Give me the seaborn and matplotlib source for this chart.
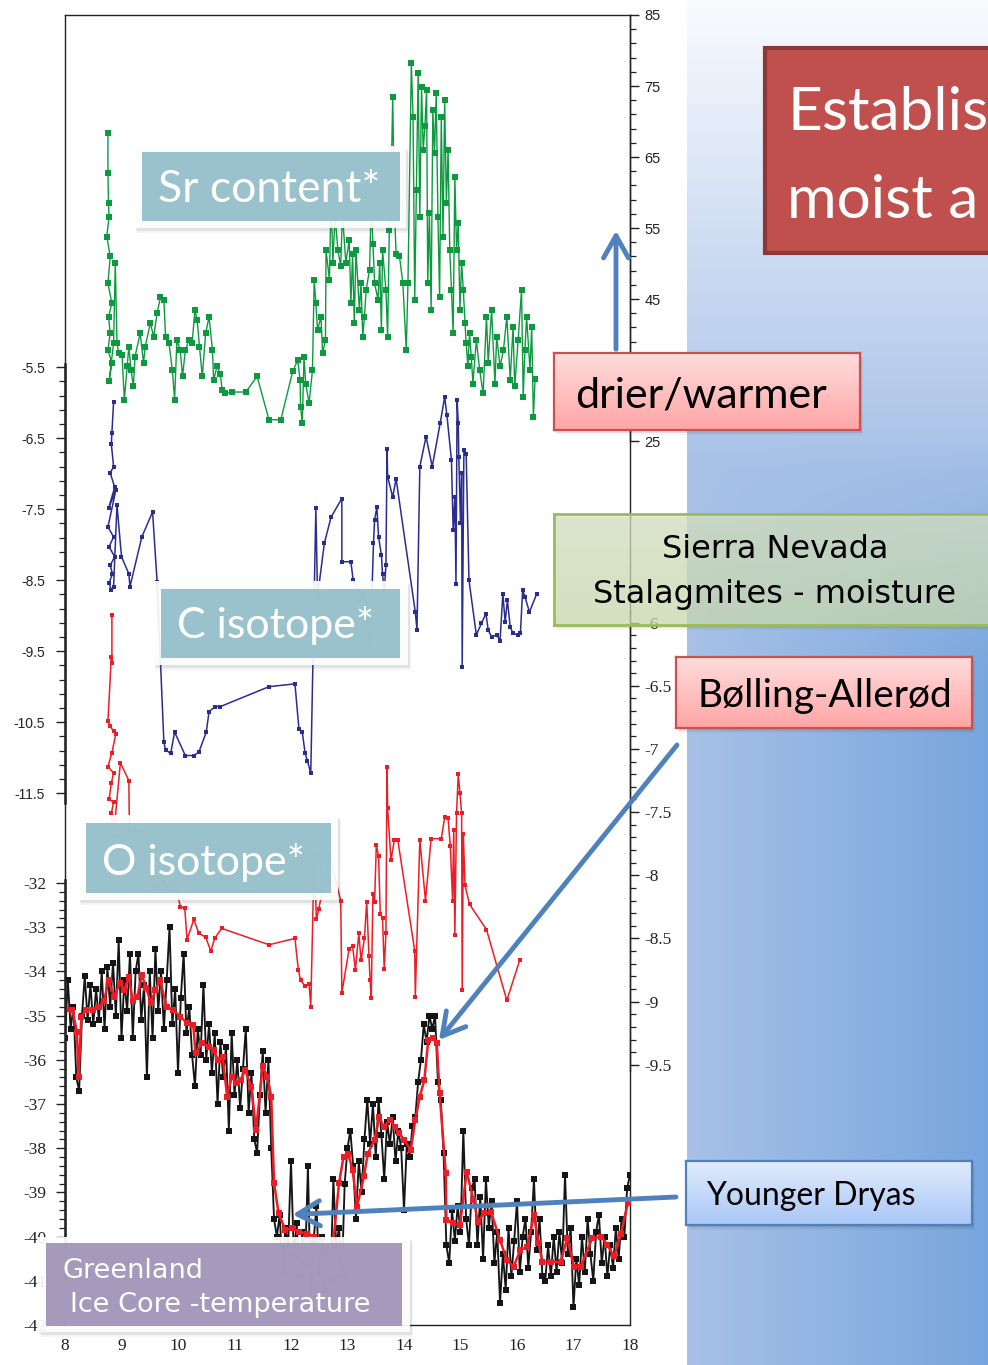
import numpy as np
import matplotlib
matplotlib.use("Agg")
import matplotlib.pyplot as plt
import seaborn as sns
from matplotlib.patches import Rectangle, FancyArrowPatch
from matplotlib.colors import to_rgb

sns.set_style("white")
plt.rcParams['font.family'] = ['Liberation Sans', 'DejaVu Sans']
plt.rcParams['axes.unicode_minus'] = False

W, H = 988, 1365

# ---------------- data (ka BP) ----------------
sr_age = [8.76, 8.76, 8.77, 8.78, 8.74, 8.80, 8.76, 8.83, 8.77, 8.80,
          8.76, 8.83, 8.78, 8.86, 8.89, 8.92, 8.95, 9.01, 9.05, 9.10,
          9.13, 9.17, 9.21, 9.24, 9.33, 9.39, 9.42, 9.51, 9.57, 9.63,
          9.69, 9.75, 9.78, 9.84, 9.90, 9.94, 9.98, 10.04, 10.08, 10.13,
          10.19, 10.25, 10.30, 10.34, 10.38, 10.43, 10.49, 10.55, 10.61, 10.63,
          10.69, 10.75, 10.78, 10.84, 10.96, 11.20, 11.40, 11.61, 11.82, 12.03,
          12.12, 12.16, 12.17, 12.20, 12.23, 12.26, 12.32, 12.38, 12.41, 12.44,
          12.47, 12.53, 12.56, 12.61, 12.62, 12.68, 12.71, 12.74, 12.78, 12.83,
          12.88, 12.91, 12.97, 13.03, 13.06, 13.09, 13.12, 13.15, 13.21, 13.24,
          13.27, 13.30, 13.33, 13.39, 13.42, 13.45, 13.48, 13.54, 13.57, 13.60,
          13.62, 13.68, 13.71, 13.74, 13.77, 13.80, 13.83, 13.86, 13.92, 13.98,
          14.04, 14.07, 14.13, 14.16, 14.19, 14.22, 14.25, 14.28, 14.31, 14.34,
          14.37, 14.40, 14.42, 14.45, 14.48, 14.51, 14.54, 14.57, 14.60, 14.63,
          14.66, 14.69, 14.72, 14.75, 14.78, 14.81, 14.84, 14.87, 14.90, 14.93,
          14.96, 14.99, 15.02, 15.05, 15.08, 15.10, 15.13, 15.16, 15.19, 15.22,
          15.28, 15.34, 15.40, 15.46, 15.49, 15.55, 15.61, 15.64, 15.70, 15.76,
          15.82, 15.88, 15.93, 15.96, 16.02, 16.08, 16.11, 16.14, 16.17, 16.23,
          16.26, 16.29, 16.32]
sr_val = [68.4, 62.7, 58.5, 56.6, 53.8, 51.0, 47.2, 44.4, 42.5, 40.2,
          37.8, 36.0, 33.4, 38.8, 50.1, 38.8, 37.4, 37.1, 30.8, 35.5,
          38.3, 35.0, 32.7, 36.9, 40.2, 36.0, 38.3, 41.6, 39.7, 43.0,
          45.3, 44.9, 39.7, 38.8, 35.0, 30.8, 39.2, 37.8, 34.1, 37.8,
          39.2, 38.8, 43.5, 42.0, 38.3, 34.1, 40.2, 42.5, 37.8, 33.6,
          35.5, 34.5, 32.2, 31.7, 31.9, 31.9, 34.1, 28.0, 28.0, 34.8,
          36.4, 33.6, 29.8, 27.5, 36.9, 33.1, 30.3, 35.0, 47.7, 44.4,
          40.6, 42.5, 37.4, 39.2, 51.9, 47.7, 59.9, 50.1, 56.6, 51.9,
          49.6, 57.1, 50.1, 53.3, 44.4, 51.4, 41.6, 51.9, 43.5, 47.2,
          39.7, 42.5, 46.3, 49.1, 58.5, 52.8, 47.2, 44.9, 50.1, 40.6,
          51.9, 46.3, 39.7, 54.7, 59.9, 73.5, 57.5, 51.4, 51.0, 47.2,
          37.8, 47.2, 78.2, 70.7, 44.9, 60.4, 76.8, 56.6, 74.9, 66.0,
          69.3, 74.4, 47.2, 57.1, 43.5, 71.6, 65.5, 74.0, 56.6, 45.3,
          70.7, 53.8, 73.0, 58.5, 66.0, 51.9, 46.3, 40.2, 62.2, 51.9,
          55.7, 43.5, 50.1, 46.3, 41.6, 38.8, 35.5, 40.2, 36.9, 33.1,
          39.2, 35.0, 31.7, 42.5, 36.0, 43.5, 33.1, 39.7, 35.5, 37.8,
          42.5, 33.6, 41.1, 32.7, 39.2, 46.3, 31.2, 37.8, 42.5, 35.0,
          41.1, 28.4, 33.8]

c_age = [8.86, 8.83, 8.82, 8.86, 8.80, 8.88, 8.77, 8.90, 8.76, 8.86,
         8.78, 8.88, 8.80, 8.84, 8.78, 8.82, 8.86, 8.92, 9.00, 9.13,
         9.15, 9.36, 9.55, 9.63, 9.75, 9.78, 9.87, 9.94, 10.13, 10.28,
         10.37, 10.50, 10.55, 10.66, 10.75, 11.61, 12.07, 12.14, 12.20, 12.25,
         12.29, 12.35, 12.44, 12.47, 12.59, 12.71, 12.90, 12.90, 13.06, 13.10,
         13.18, 13.21, 13.27, 13.33, 13.38, 13.40, 13.46, 13.48, 13.52, 13.55,
         13.60, 13.62, 13.65, 13.68, 13.70, 13.71, 13.80, 13.86, 14.20, 14.23,
         14.28, 14.39, 14.50, 14.64, 14.72, 14.76, 14.84, 14.87, 14.90, 14.92,
         14.94, 14.96, 14.97, 15.00, 15.02, 15.03, 15.06, 15.10, 15.15, 15.28,
         15.37, 15.45, 15.49, 15.55, 15.64, 15.70, 15.75, 15.79, 15.83, 15.88,
         15.93, 16.02, 16.06, 16.10, 16.14, 16.22, 16.35]
c_val = [-5.99, -6.43, -6.58, -6.90, -6.99, -7.19, -7.49, -7.23, -7.75, -7.89,
         -8.03, -8.17, -8.29, -8.41, -8.54, -8.64, -8.59, -7.44, -8.17, -8.41,
         -8.59, -7.89, -7.54, -8.52, -10.78, -10.89, -10.94, -10.64, -10.97, -10.97,
         -10.92, -10.64, -10.35, -10.28, -10.28, -10.00, -9.96, -10.59, -10.64, -10.94,
         -11.04, -11.22, -7.49, -8.73, -7.98, -7.61, -7.35, -8.24, -8.24, -8.50,
         -8.64, -8.81, -8.71, -8.83, -9.11, -9.53, -7.98, -7.65, -7.47, -7.89,
         -8.15, -8.41, -8.66, -8.29, -6.65, -7.04, -7.33, -7.07, -8.95, -9.20,
         -6.90, -6.48, -6.90, -6.29, -5.92, -6.18, -6.81, -7.80, -7.33, -8.55,
         -5.96, -6.29, -6.76, -7.70, -6.99, -9.72, -6.67, -6.72, -8.50, -9.27,
         -9.11, -8.97, -9.20, -9.30, -9.27, -9.35, -8.69, -9.09, -8.78, -9.16,
         -9.25, -9.27, -9.25, -8.64, -8.73, -8.95, -8.69]

o_age = [8.83, 8.83, 8.82, 8.76, 8.80, 8.86, 8.90, 8.83, 8.76, 8.86,
         8.82, 8.78, 8.86, 8.82, 8.86, 8.98, 9.13, 9.14, 9.36, 9.42,
         9.48, 9.60, 9.75, 9.81, 9.94, 9.98, 10.04, 10.12, 10.16, 10.28,
         10.37, 10.49, 10.58, 10.65, 10.77, 11.61, 12.07, 12.13, 12.17, 12.25,
         12.32, 12.35, 12.41, 12.45, 12.49, 12.68, 12.88, 12.90, 13.03, 13.09,
         13.14, 13.20, 13.24, 13.30, 13.34, 13.38, 13.40, 13.42, 13.45, 13.48,
         13.51, 13.55, 13.58, 13.62, 13.65, 13.68, 13.70, 13.71, 13.77, 13.83,
         13.89, 14.19, 14.20, 14.28, 14.38, 14.48, 14.66, 14.72, 14.78, 14.82,
         14.86, 14.88, 14.90, 14.93, 14.96, 14.99, 15.02, 15.03, 15.05, 15.08,
         15.16, 15.46, 15.82, 16.05]
o_val = [-5.94, -6.32, -6.27, -6.78, -6.82, -6.86, -6.88, -7.03, -7.14, -7.19,
         -7.27, -7.40, -7.42, -7.51, -7.69, -7.11, -7.25, -7.64, -7.65, -7.67,
         -7.80, -8.10, -8.05, -8.10, -8.05, -8.12, -8.25, -8.26, -8.51, -8.35,
         -8.46, -8.49, -8.60, -8.50, -8.42, -8.55, -8.50, -8.75, -8.83, -8.88,
         -8.86, -9.04, -7.85, -8.35, -8.27, -7.84, -8.20, -8.93, -8.58, -8.56,
         -8.75, -8.46, -8.67, -8.50, -8.21, -8.64, -8.83, -8.97, -8.15, -8.21,
         -7.76, -7.85, -8.31, -8.34, -8.74, -8.46, -7.14, -7.47, -7.88, -7.72,
         -7.72, -8.60, -8.96, -7.72, -8.20, -7.71, -7.71, -7.54, -7.55, -7.77,
         -8.20, -7.64, -8.47, -7.51, -7.20, -7.35, -7.51, -8.91, -7.67, -8.08,
         -8.23, -8.43, -8.99, -8.67]

# Greenland ice core temperature, regular 50-year steps from 8.0 to 18.0 ka
gr_age = np.round(np.arange(8.0, 18.001, 0.05), 2)
gr_temp = [-35.5, -34.2, -35.3, -34.8, -36.4, -36.7, -35.0, -34.1, -35.1, -34.3,
           -35.2, -34.4, -35.1, -34.0, -35.3, -33.9, -34.8, -33.8, -35.0, -33.3,
           -35.5, -34.2, -34.9, -33.6, -35.5, -34.0, -33.6, -35.1, -34.3, -36.4,
           -34.0, -35.5, -33.5, -34.9, -34.0, -35.3, -34.2, -33.0, -35.2, -34.4,
           -36.3, -34.6, -33.6, -35.4, -34.8, -35.9, -36.6, -35.3, -35.9, -34.3,
           -36.0, -35.2, -36.3, -35.4, -37.0, -35.6, -36.4, -35.7, -37.6, -35.4,
           -36.8, -36.0, -37.1, -36.2, -35.3, -37.2, -36.3, -37.8, -38.1, -36.8,
           -35.8, -37.2, -36.0, -38.0, -39.6, -40.0, -39.5, -40.8, -39.8, -40.2,
           -38.3, -40.4, -39.7, -40.9, -39.9, -40.6, -38.4, -41.5, -40.1, -39.3,
           -40.8, -40.0, -41.2, -40.3, -41.0, -38.7, -40.2, -39.8, -40.9, -38.8,
           -38.0, -37.6, -38.4, -39.6, -38.3, -39.0, -37.8, -36.9, -37.9, -37.0,
           -38.2, -36.9, -37.7, -38.7, -37.4, -37.9, -37.3, -38.3, -37.6, -38.0,
           -39.4, -37.9, -38.2, -37.5, -37.3, -36.5, -36.0, -35.2, -35.6, -35.0,
           -35.3, -35.0, -36.5, -36.9, -38.1, -40.2, -40.6, -39.4, -40.1, -39.3,
           -39.9, -37.6, -39.6, -40.2, -38.9, -38.7, -40.2, -39.1, -40.5, -38.7,
           -39.8, -39.2, -40.6, -39.9, -41.5, -40.4, -41.2, -39.8, -40.9, -40.1,
           -39.2, -40.8, -40.0, -39.6, -40.7, -39.9, -38.7, -40.3, -39.6, -40.9,
           -41.0, -40.2, -40.9, -40.0, -40.8, -39.9, -40.6, -38.6, -40.4, -39.8,
           -41.6, -40.5, -41.1, -40.0, -40.8, -39.6, -40.4, -41.0, -39.9, -39.5,
           -40.6, -40.0, -40.9, -40.2, -40.7, -39.8, -40.5, -39.6, -40.0, -38.9,
           -38.6]

grs_age = [8.02, 8.13, 8.21, 8.24, 8.29, 8.37, 8.49, 8.61, 8.69, 8.77,
           8.87, 8.97, 9.05, 9.13, 9.20, 9.28, 9.36, 9.44, 9.52, 9.60,
           9.68, 9.80, 9.92, 10.04, 10.16, 10.27, 10.31, 10.43, 10.55, 10.63,
           10.71, 10.79, 10.87, 10.95, 11.03, 11.11, 11.19, 11.30, 11.38, 11.50,
           11.58, 11.65, 11.70, 11.78, 11.90, 12.02, 12.14, 12.29, 12.41, 12.53,
           12.65, 12.73, 12.85, 12.93, 13.01, 13.09, 13.17, 13.29, 13.36, 13.48,
           13.56, 13.64, 13.76, 13.84, 13.92, 14.00, 14.12, 14.20, 14.28, 14.36,
           14.43, 14.51, 14.58, 14.63, 14.74, 14.75, 14.87, 14.99, 15.11, 15.23,
           15.31, 15.42, 15.54, 15.70, 15.82, 15.94, 16.06, 16.18, 16.30, 16.38,
           16.45, 16.61, 16.77, 16.89, 17.01, 17.13, 17.33, 17.49, 17.60, 17.72,
           17.84, 17.96]
grs_temp = [-34.84, -34.87, -35.36, -36.38, -35.02, -34.87, -34.87, -34.80, -34.68, -34.19,
            -34.57, -34.27, -34.42, -34.12, -34.68, -34.57, -34.08, -34.38, -34.72, -34.42,
            -34.19, -34.80, -34.87, -35.02, -35.17, -35.21, -35.85, -35.63, -35.70, -35.78,
            -36.00, -35.93, -36.83, -36.38, -36.53, -36.46, -36.23, -36.61, -37.59, -36.15,
            -36.38, -36.83, -38.79, -39.47, -39.85, -39.81, -39.89, -39.93, -40.00, -40.38,
            -40.87, -40.38, -38.79, -38.19, -38.12, -38.49, -39.32, -38.64, -38.12, -37.81,
            -37.29, -37.51, -37.36, -37.51, -37.66, -37.81, -38.04, -37.36, -36.83, -36.46,
            -35.55, -35.51, -35.63, -36.76, -38.57, -39.62, -39.70, -39.74, -38.53, -39.17,
            -39.66, -39.47, -39.44, -40.08, -40.53, -40.68, -40.30, -40.23, -39.51, -40.15,
            -40.57, -40.57, -40.57, -40.04, -40.68, -40.68, -40.04, -40.00, -40.19, -40.45,
            -39.93, -39.25]

x_ticks = [8, 9, 10, 11, 12, 13, 14, 15, 16, 17, 18]
sr_ticks = [25, 35, 45, 55, 65, 75, 85]
c_ticks = [-5.5, -6.5, -7.5, -8.5, -9.5, -10.5, -11.5]
gr_ticks = [-32, -33, -34, -35, -36, -37, -38, -39, -40, -41, -42]
o_ticks = [-6, -6.5, -7, -7.5, -8, -8.5, -9, -9.5]

# ---------------- figure ----------------
fig = plt.figure(figsize=(W / 100, H / 100), dpi=100)
fig.patch.set_facecolor('white')


def fx(px):
    return px / W


def fy(py):
    return 1 - py / H


SERIF = 'Liberation Serif'
SANS = 'Liberation Sans'
INK = '#222222'

# right-hand gradient panel
pan = fig.add_axes([fx(687), 0, 1 - fx(687), 1], zorder=-5)
yy = np.linspace(0, H, 280)[:, None]
uu = np.linspace(0, 1, 80)[None, :]
c_top = np.array([0.975, 0.983, 0.997])
c_mid = np.array([0.655, 0.757, 0.906])
c_dark = np.array([0.47, 0.65, 0.87])
a = np.clip(yy / 470.0, 0, 1)[..., None]
base = c_top * (1 - a) + c_mid * a
w = (np.clip((yy - 430) / 250.0, 0, 1) * uu)[..., None]
img = base * (1 - w) + c_dark * w
pan.imshow(img, aspect='auto', extent=(0, 1, 0, 1), interpolation='bilinear')
pan.axis('off')

# main frame axes
rect = [fx(65), fy(1325), fx(630) - fx(65), fy(15) - fy(1325)]
ax = fig.add_axes(rect, zorder=1)
ax.set_facecolor('white')
for s in ax.spines.values():
    s.set_linewidth(1.0)
    s.set_color(INK)


def make_twin(side, ylim, ticks, minor, bounds, family, size, pad, lw, z=2):
    t = ax.twinx()
    t.set_zorder(z)
    t.patch.set_visible(False)
    for k in ['top', 'bottom', 'left', 'right']:
        t.spines[k].set_visible(False)
    sp = t.spines[side]
    sp.set_visible(True)
    sp.set_bounds(*bounds)
    sp.set_linewidth(lw)
    sp.set_color(INK)
    if side == 'left':
        t.yaxis.tick_left()
    else:
        t.yaxis.tick_right()
    t.set_ylim(*ylim)
    t.set_yticks(ticks, labels=['%g' % v for v in ticks], fontfamily=family,
                 fontsize=size, color=INK)
    t.set_yticks(minor, minor=True)
    t.tick_params(axis='y', which='major', direction='out', length=6.5,
                  width=1.0, pad=pad, colors=INK)
    t.tick_params(axis='y', which='minor', direction='out', length=4.3,
                  width=0.9, colors=INK)
    return t


ax_sr = make_twin('right', (-99.5, 85), sr_ticks, np.arange(25, 85.1, 2),
                  (25, 85), SANS, 10.5, 4, 1.0)
ax_o = make_twin('right', (-11.56, -1.19), o_ticks,
                 np.round(np.arange(-9.5, -5.95, 0.1), 2),
                 (-9.55, -5.9), SERIF, 12.5, 4, 1.0)
ax_c = make_twin('left', (-18.99, -0.54), c_ticks,
                 np.round(np.arange(-11.5, -5.45, 0.2), 2),
                 (-11.64, -5.45), SANS, 10, 8, 1.8)
ax_g = make_twin('left', (-42, -12.36), gr_ticks,
                 np.round(np.arange(-42, -31.95, 0.2), 2),
                 (-42, -31.93), SERIF, 12.5, 7, 1.8, z=3)

ax.set_yticks([])
ax.tick_params(axis='y', left=False, right=False)

common = dict(sort=False, estimator=None, errorbar=None, marker='s',
              markeredgewidth=0)
sns.lineplot(x=sr_age, y=sr_val, ax=ax_sr, color='#0d9a3f', linewidth=1.0,
             markersize=3.7, markeredgecolor='#0d9a3f', **common)
sns.lineplot(x=c_age, y=c_val, ax=ax_c, color='#2b2d8e', linewidth=1.1,
             markersize=3.5, markeredgecolor='#2b2d8e', **common)
sns.lineplot(x=o_age, y=o_val, ax=ax_o, color='#ee1c25', linewidth=1.1,
             markersize=3.5, markeredgecolor='#ee1c25', **common)
sns.lineplot(x=gr_age, y=gr_temp, ax=ax_g, color='#151515', linewidth=1.35,
             markersize=4.0, markeredgecolor='#151515', **common)
sns.lineplot(x=grs_age, y=grs_temp, ax=ax_g, color='#ee1c25', linewidth=1.8,
             markersize=3.8, markeredgecolor='#ee1c25', **common)

for t in (ax_sr, ax_o, ax_c, ax_g):
    t.set_xlabel('')
    t.set_ylabel('')
ax_sr.set_ylim(-99.5, 85)
ax_o.set_ylim(-11.56, -1.19)
ax_c.set_ylim(-18.99, -0.54)
ax_g.set_ylim(-42, -12.36)

ax.set_xlim(8, 18)
ax.set_ylim(0, 1)
ax.set_xticks(x_ticks, labels=[str(v) for v in x_ticks], fontfamily=SERIF,
              fontsize=12.5, color=INK)
ax.set_xticks(np.round(np.arange(8, 18.01, 0.2), 2), minor=True)
ax.tick_params(axis='x', which='major', direction='out', length=6.5, width=1.0,
               pad=3, colors=INK, top=False)
ax.tick_params(axis='x', which='minor', direction='out', length=3.8, width=0.9,
               colors=INK, top=False)

# ---------------- annotation helpers ----------------


def frect(x0, y0, x1, y1, z, **kw):
    r = Rectangle((fx(x0), fy(y1)), fx(x1) - fx(x0), fy(y0) - fy(y1),
                  transform=fig.transFigure, zorder=z, **kw)
    fig.add_artist(r)
    return r


def shadow(x0, y0, x1, y1, z, off=3, alpha=0.12):
    for k, al in ((off + 2, alpha * 0.5), (off, alpha)):
        frect(x0 + k * 0.5, y0 + k, x1 + k * 0.5, y1 + k, z - 0.2,
              facecolor='#404040', alpha=al, linewidth=0)


def grad_box(x0, y0, x1, y1, top, bot, z, edge, lw=1.5, alpha=1.0):
    b = fig.add_axes([fx(x0), fy(y1), fx(x1) - fx(x0), fy(y0) - fy(y1)], zorder=z)
    g = np.linspace(0, 1, 60)[:, None, None]
    im = np.array(to_rgb(top)) * (1 - g) + np.array(to_rgb(bot)) * g
    b.imshow(im, aspect='auto', extent=(0, 1, 0, 1), alpha=alpha,
             interpolation='bilinear')
    b.set_xlim(0, 1)
    b.set_ylim(0, 1)
    b.set_xticks([])
    b.set_yticks([])
    b.patch.set_visible(False)
    for s in b.spines.values():
        s.set_edgecolor(edge)
        s.set_linewidth(lw)
    return b


def ftext(x, y, s, z, **kw):
    fig.text(fx(x), fy(y), s, zorder=z, va='baseline', **kw)


# teal / purple series labels
def label_box(outer, inner, fill, alpha, z=10):
    shadow(*outer, z, off=3, alpha=0.1)
    frect(*outer, z, facecolor='white', alpha=0.92, linewidth=0)
    frect(*inner, z + 0.1, facecolor=fill, alpha=alpha, linewidth=0)


label_box((134, 146, 406, 228), (142, 152, 400, 221), '#8fbcc7', 0.9)
ftext(158, 202, 'Sr content*', 11, color='white', fontsize=32, fontfamily='Lato')

label_box((153, 581, 408, 665), (161, 589, 400, 658), '#8fbcc7', 0.9)
ftext(177, 638, 'C isotope*', 11, color='white', fontsize=31, fontfamily='Lato')

label_box((78, 815, 338, 900), (86, 823, 331, 893), '#8fbcc7', 0.9)
ftext(102, 875, 'O isotope*', 11, color='white', fontsize=31, fontfamily='Lato')

label_box((38, 1237, 410, 1332), (46, 1243, 402, 1326), '#9a8db3', 0.88)
ftext(62, 1278, 'Greenland', 11, color='white', fontsize=19.5,
      fontfamily='DejaVu Sans')
ftext(70, 1312, 'Ice Core -temperature', 11, color='white', fontsize=19.5,
      fontfamily='DejaVu Sans')

# up arrow "drier/warmer"
fig.add_artist(FancyArrowPatch((fx(616), fy(352)), (fx(616), fy(228)),
                               transform=fig.transFigure,
                               arrowstyle='->,head_length=0.8,head_width=0.45',
                               mutation_scale=20, linewidth=3.5,
                               color='#4f81bd', zorder=8))

# drier/warmer box
shadow(554, 353, 860, 430, 12)
grad_box(554, 353, 860, 430, '#ffdcdc', '#ffa6a6', 12, '#c9514f', lw=1.6)
ftext(575, 407, 'drier/warmer', 13, color='black', fontsize=31, fontfamily='Lato')

# red title box, cut by the right edge of the slide
frect(765, 48, 1010, 253, 12, facecolor='#c0504d', edgecolor='#8c3836',
      linewidth=3)
ftext(787, 130, 'Establis', 13, color='white', fontsize=43.5, fontfamily='Lato')
ftext(787, 218, 'moist a', 13, color='white', fontsize=43.5, fontfamily='Lato')

# Sierra Nevada box (semi-transparent)
shadow(554, 514, 1010, 625, 12, alpha=0.1)
grad_box(554, 514, 1010, 625, '#dbe7c4', '#cfe0b4', 12, '#9bbb59', lw=2.0,
         alpha=0.72)
fig.text(fx(775), fy(558), 'Sierra Nevada', zorder=13, ha='center',
         va='baseline', color='black', fontsize=23, fontfamily='DejaVu Sans')
fig.text(fx(775), fy(603), 'Stalagmites - moisture', zorder=13, ha='center',
         va='baseline', color='black', fontsize=23, fontfamily='DejaVu Sans')

# Bølling-Allerød box
shadow(676, 657, 972, 728, 12)
grad_box(676, 657, 972, 728, '#ffdcdc', '#ffa6a6', 12, '#c9514f', lw=1.6)
ftext(697, 707, 'Bølling-Allerød', 13, color='black', fontsize=28,
      fontfamily='Lato')

# Younger Dryas box
shadow(686, 1161, 972, 1225, 12)
grad_box(686, 1161, 972, 1225, '#e2ecfd', '#a9c7f6', 12, '#4f81bd', lw=1.6)
ftext(706, 1205, 'Younger Dryas', 13, color='black', fontsize=23,
      fontfamily='Lato')

# arrows pointing at the Greenland record
arrow_kw = dict(arrowstyle='->,head_length=0.8,head_width=0.45',
                mutation_scale=20, linewidth=3.5, color='#4f81bd',
                shrinkA=0, shrinkB=0)
ax_g.annotate('', xy=(14.62, -35.55), xycoords='data',
              xytext=(fx(677), fy(745)), textcoords='figure fraction',
              arrowprops=arrow_kw, annotation_clip=False)
ax_g.annotate('', xy=(12.03, -39.5), xycoords='data',
              xytext=(fx(676), fy(1197)), textcoords='figure fraction',
              arrowprops=arrow_kw, annotation_clip=False)

fig.savefig('out.png', dpi=100)
